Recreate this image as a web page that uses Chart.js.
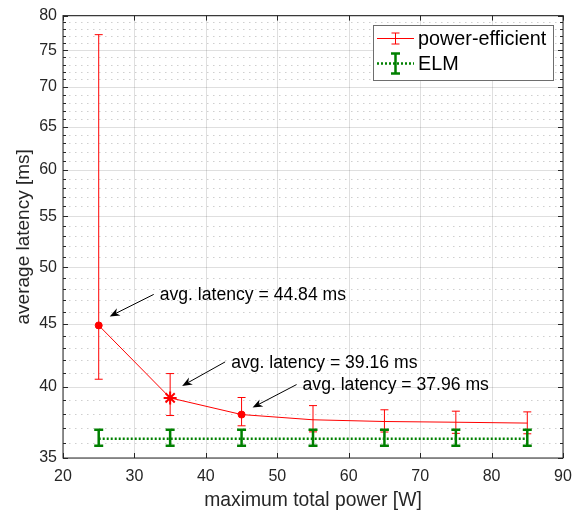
<!DOCTYPE html>
<html>
<head>
<meta charset="utf-8">
<script src="https://cdn.jsdelivr.net/npm/chart.js@4.4.1/dist/chart.umd.min.js"></script>
<style>
  html, body { margin: 0; padding: 0; background: #fff; }
  #wrap { width: 583px; height: 512px; }
</style>
</head>
<body>
<div id="wrap"><canvas id="myChart" width="583" height="512"></canvas></div>
<script>
// measured latency per power cap
const powerLevels = [25, 35, 45, 55, 65, 75, 85];
const efficientLatency = [44.84, 39.16, 37.96, 37.59, 37.47, 37.42, 37.36];
const efficientLow = [40.55, 37.89, 37.17, 36.75, 36.74, 36.65, 36.62];
const efficientHigh = [77.2, 40.98, 39.19, 38.6, 38.3, 38.2, 38.15];
const elmLatency = [36.28, 36.28, 36.28, 36.28, 36.28, 36.28, 36.28];
const elmLow = [35.81, 35.81, 35.81, 35.81, 35.81, 35.81, 35.81];
const elmHigh = [36.9, 36.9, 36.9, 36.9, 36.9, 36.9, 36.9];

const xTicks = [20, 30, 40, 50, 60, 70, 80, 90];
const yTicks = [35, 40, 45, 50, 55, 60, 65, 70, 75, 80];
const annotated = [0, 1, 2]; // points that get a callout

// minor ticks: every 1 ms between the major ones
const yMinor = [];
for (let i = 0; i < yTicks.length - 1; i++) {
    for (let v = yTicks[i] + 1; v < yTicks[i + 1]; v++) yMinor.push(v);
}

const FONT = "'Liberation Sans', Arial, Helvetica, sans-serif";
const AXIS_COLOR = '#262626';

// callout arrow offsets (px) relative to the annotated point
const callouts = [
    { tip: [11, -9], tail: [55, -31] },
    { tip: [12, -12], tail: [55, -36] },
    { tip: [11, -7], tail: [55, -30] }
];

function drawErrorBar(ctx, x, yLo, yHi, half, width, color) {
    ctx.save();
    ctx.strokeStyle = color;
    ctx.lineWidth = width;
    ctx.lineCap = 'butt';
    ctx.beginPath();
    ctx.moveTo(x, yLo); ctx.lineTo(x, yHi);
    ctx.moveTo(x - half, yLo); ctx.lineTo(x + half, yLo);
    ctx.moveTo(x - half, yHi); ctx.lineTo(x + half, yHi);
    ctx.stroke();
    ctx.restore();
}

function drawArrow(ctx, x0, y0, x1, y1) {
    const ang = Math.atan2(y1 - y0, x1 - x0);
    const len = 10, hw = 4, notch = 3;
    ctx.save();
    ctx.strokeStyle = '#000';
    ctx.fillStyle = '#000';
    ctx.lineWidth = 1;
    ctx.beginPath();
    ctx.moveTo(x0, y0);
    ctx.lineTo(x1 - Math.cos(ang) * (len - notch), y1 - Math.sin(ang) * (len - notch));
    ctx.stroke();
    ctx.translate(x1, y1);
    ctx.rotate(ang);
    ctx.beginPath();
    ctx.moveTo(0, 0);
    ctx.lineTo(-len, -hw);
    ctx.lineTo(-len + notch, 0);
    ctx.lineTo(-len, hw);
    ctx.closePath();
    ctx.fill();
    ctx.restore();
}

const matlabAxes = {
    id: 'matlabAxes',
    beforeDatasetsDraw(chart) {
        const { ctx, chartArea: a, scales: { x, y } } = chart;
        ctx.save();
        // dotted minor grid
        ctx.strokeStyle = 'rgba(38,38,38,0.22)';
        ctx.lineWidth = 1;
        ctx.setLineDash([1.5, 4.5]);
        ctx.beginPath();
        yMinor.forEach(v => {
            const py = Math.round(y.getPixelForValue(v)) + 0.5;
            ctx.moveTo(a.left, py); ctx.lineTo(a.right, py);
        });
        ctx.stroke();
        // solid major grid
        ctx.setLineDash([]);
        ctx.strokeStyle = 'rgba(38,38,38,0.15)';
        ctx.beginPath();
        yTicks.forEach(v => {
            const py = Math.round(y.getPixelForValue(v)) + 0.5;
            ctx.moveTo(a.left, py); ctx.lineTo(a.right, py);
        });
        xTicks.forEach(v => {
            const px = Math.round(x.getPixelForValue(v)) + 0.5;
            ctx.moveTo(px, a.top); ctx.lineTo(px, a.bottom);
        });
        ctx.stroke();
        ctx.restore();
    },
    afterDatasetDraw(chart, args) {
        const ds = chart.data.datasets[args.index];
        const { ctx, scales: { x, y } } = chart;
        ds.data.forEach((p, i) => {
            drawErrorBar(ctx, x.getPixelForValue(p.x),
                y.getPixelForValue(ds.errLow[i]), y.getPixelForValue(ds.errHigh[i]),
                ds.capHalf, ds.errWidth, ds.borderColor);
        });
    },
    afterDraw(chart) {
        const { ctx, chartArea: a, scales: { x, y } } = chart;
        ctx.save();
        // box and inward tick marks on all four sides
        ctx.strokeStyle = AXIS_COLOR;
        ctx.lineWidth = 1;
        ctx.strokeRect(a.left, a.top, a.right - a.left, a.bottom - a.top);
        ctx.beginPath();
        xTicks.forEach(v => {
            const px = Math.round(x.getPixelForValue(v)) + 0.5;
            ctx.moveTo(px, a.bottom); ctx.lineTo(px, a.bottom - 5);
            ctx.moveTo(px, a.top); ctx.lineTo(px, a.top + 5);
        });
        yTicks.forEach(v => {
            const py = Math.round(y.getPixelForValue(v)) + 0.5;
            ctx.moveTo(a.left, py); ctx.lineTo(a.left + 5, py);
            ctx.moveTo(a.right, py); ctx.lineTo(a.right - 5, py);
        });
        yMinor.forEach(v => {
            const py = Math.round(y.getPixelForValue(v)) + 0.5;
            ctx.moveTo(a.left, py); ctx.lineTo(a.left + 3, py);
            ctx.moveTo(a.right, py); ctx.lineTo(a.right - 3, py);
        });
        ctx.stroke();

        // callouts on the power-efficient curve
        const eff = chart.data.datasets[0];
        ctx.font = '17.6px ' + FONT;
        ctx.fillStyle = '#000';
        ctx.textBaseline = 'middle';
        ctx.textAlign = 'left';
        annotated.forEach((idx, k) => {
            const px = x.getPixelForValue(eff.data[idx].x);
            const py = y.getPixelForValue(eff.data[idx].y);
            const c = callouts[k];
            drawArrow(ctx, px + c.tail[0], py + c.tail[1], px + c.tip[0], py + c.tip[1]);
            ctx.fillText('avg. latency = ' + eff.data[idx].y.toFixed(2) + ' ms',
                px + c.tail[0] + 6, py + c.tail[1] + 1);
        });

        // legend box, top right inside the axes
        const lx = 373, ly = 25, lw = 180, lh = 55;
        ctx.fillStyle = '#fff';
        ctx.fillRect(lx, ly, lw, lh);
        ctx.strokeStyle = '#6e6e6e';
        ctx.strokeRect(lx + 0.5, ly + 0.5, lw, lh);
        ctx.font = '19.8px ' + FONT;
        chart.data.datasets.forEach((ds, i) => {
            const cy = ly + 13.5 + i * 25;
            ctx.save();
            ctx.strokeStyle = ds.borderColor;
            ctx.lineWidth = ds.borderWidth;
            ctx.setLineDash(ds.borderDash || []);
            ctx.beginPath();
            ctx.moveTo(lx + 4, cy); ctx.lineTo(lx + 41, cy);
            ctx.stroke();
            ctx.restore();
            const eh = i === 0 ? 5.5 : 10;
            drawErrorBar(ctx, lx + 22.5, cy - eh, cy + eh, ds.capHalf, ds.errWidth, ds.borderColor);
            ctx.fillStyle = '#000';
            ctx.fillText(ds.label, lx + 45, cy + 1);
        });
        ctx.restore();
    }
};

new Chart(document.getElementById('myChart'), {
    type: 'line',
    data: {
        datasets: [{
            label: 'power-efficient',
            data: powerLevels.map((p, i) => ({ x: p, y: efficientLatency[i] })),
            errLow: efficientLow,
            errHigh: efficientHigh,
            capHalf: 4,
            errWidth: 1,
            borderColor: '#ff0000',
            backgroundColor: '#ff0000',
            borderWidth: 1,
            pointStyle: ['circle', 'star', 'circle', 'circle', 'circle', 'circle', 'circle'],
            pointRadius: [3.5, 6.5, 3.5, 0, 0, 0, 0],
            pointBorderWidth: [1, 2, 1, 0, 0, 0, 0],
            pointBackgroundColor: '#ff0000',
            pointBorderColor: '#ff0000',
            tension: 0,
            fill: false,
            order: 1
        }, {
            label: 'ELM',
            data: powerLevels.map((p, i) => ({ x: p, y: elmLatency[i] })),
            errLow: elmLow,
            errHigh: elmHigh,
            capHalf: 4.5,
            errWidth: 2.5,
            borderColor: '#008000',
            backgroundColor: '#008000',
            borderWidth: 2.5,
            borderDash: [2, 2],
            borderCapStyle: 'butt',
            pointRadius: 0,
            tension: 0,
            fill: false,
            order: 0
        }]
    },
    options: {
        responsive: false,
        animation: false,
        layout: { padding: { top: 15, right: 20, left: 0, bottom: 0 } },
        plugins: {
            legend: { display: false },
            tooltip: { enabled: false }
        },
        scales: {
            x: {
                type: 'linear',
                min: 20,
                max: 90,
                afterBuildTicks: s => { s.ticks = xTicks.map(v => ({ value: v })); },
                afterFit: s => { s.height = 54; },
                grid: { display: false, drawTicks: false },
                border: { display: false },
                ticks: {
                    autoSkip: false,
                    maxRotation: 0,
                    padding: 9,
                    color: AXIS_COLOR,
                    font: { family: FONT, size: 16 },
                    callback: v => String(v)
                },
                title: {
                    display: true,
                    text: 'maximum total power [W]',
                    color: AXIS_COLOR,
                    font: { family: FONT, size: 19.3, lineHeight: 1.2 },
                    padding: { top: 0, bottom: 0 }
                }
            },
            y: {
                type: 'logarithmic',
                min: 35,
                max: 80,
                afterBuildTicks: s => { s.ticks = yTicks.map(v => ({ value: v })); },
                afterFit: s => { s.width = 63; },
                grid: { display: false, drawTicks: false },
                border: { display: false },
                ticks: {
                    autoSkip: false,
                    padding: 6,
                    color: AXIS_COLOR,
                    font: { family: FONT, size: 16 },
                    callback: v => String(v)
                },
                title: {
                    display: true,
                    text: 'average latency [ms]',
                    color: AXIS_COLOR,
                    font: { family: FONT, size: 19, lineHeight: 1.2 },
                    padding: { top: 12.5, bottom: 0 }
                }
            }
        }
    },
    plugins: [matlabAxes]
});
</script>
</body>
</html>
